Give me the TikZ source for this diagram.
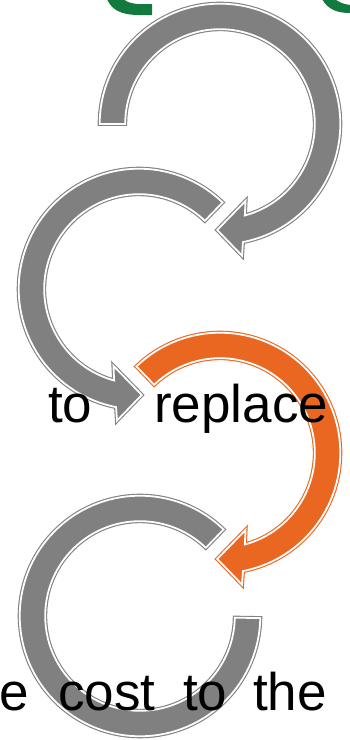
\documentclass[tikz,border=0pt]{standalone}
\usepackage{fontspec}
\setmainfont{Liberation Sans}
\usetikzlibrary{calc}
\definecolor{arrgray}{HTML}{808080}
\definecolor{arrorange}{HTML}{EA6721}
\definecolor{grn}{HTML}{127A3E}
\tikzset{
  ring/.style={fill=#1,draw=#1,line width=4pt,line join=miter,
    postaction={draw=white,line width=1.8pt,line join=miter}},
  word/.style={anchor=base west,inner sep=0pt,font=\fontsize{53}{60}\selectfont},
}

\begin{document}
\begin{tikzpicture}[x=1pt,y=1pt]
\useasboundingbox (0,0) rectangle (349,740);
\coordinate (c1) at (220,616);
\coordinate (c2) at (139,451);
\coordinate (c3) at (220,287);
\coordinate (c4) at (140,124);

% green pieces cut by the top edge
\fill[grn] (107,741) .. controls (113,727) and (125,724) .. (152,725) -- (152,736)
  .. controls (135,735) and (128,737) .. (123,741) -- cycle;
\fill[grn] (322,741) .. controls (328,730) and (338,727) .. (350,727) -- (350,735)
  .. controls (343,736) and (338,738) .. (335,741) -- cycle;

% circular arrows
\draw[ring=arrgray] ($(c1)+(180:120.3)$) arc[start angle=180,end angle=-79,radius=120.3]
  -- ($(c1)+(-80.5:133.5)$) -- ($(c1)+(-91.5:106)$) -- ($(c1)+(-71.6:81)$)
  -- ($(c1)+(-74.8:94.8)$) arc[start angle=-74.8,end angle=180,radius=94.8] -- cycle;
\draw[ring=arrgray] ($(c2)+(46:120.3)$) arc[start angle=46,end angle=259,radius=120.3]
  -- ($(c2)+(260.5:133.5)$) -- ($(c2)+(271.5:106)$) -- ($(c2)+(251.6:81)$)
  -- ($(c2)+(254.8:94.8)$) arc[start angle=254.8,end angle=46,radius=94.8] -- cycle;
\draw[ring=arrorange] ($(c3)+(134:120.3)$) arc[start angle=134,end angle=-79,radius=120.3]
  -- ($(c3)+(-80.5:133.5)$) -- ($(c3)+(-91.5:106)$) -- ($(c3)+(-71.6:81)$)
  -- ($(c3)+(-74.8:94.8)$) arc[start angle=-74.8,end angle=134,radius=94.8] -- cycle;
\draw[ring=arrgray] ($(c4)+(46:120.3)$) arc[start angle=46,end angle=359,radius=120.3]
  -- ($(c4)+(359:94.8)$) arc[start angle=359,end angle=46,radius=94.8] -- cycle;

% words
\node[word] (to1) at (48,317) {to};
\node[word] (replace) at (154,317) {replace};
\node[word] (e) at (-1,30) {e};
\node[word] (cost) at (58,30) {cost};
\node[word] (to2) at (183,30) {to};
\node[word] (the) at (253,30) {the};
\end{tikzpicture}
\end{document}
